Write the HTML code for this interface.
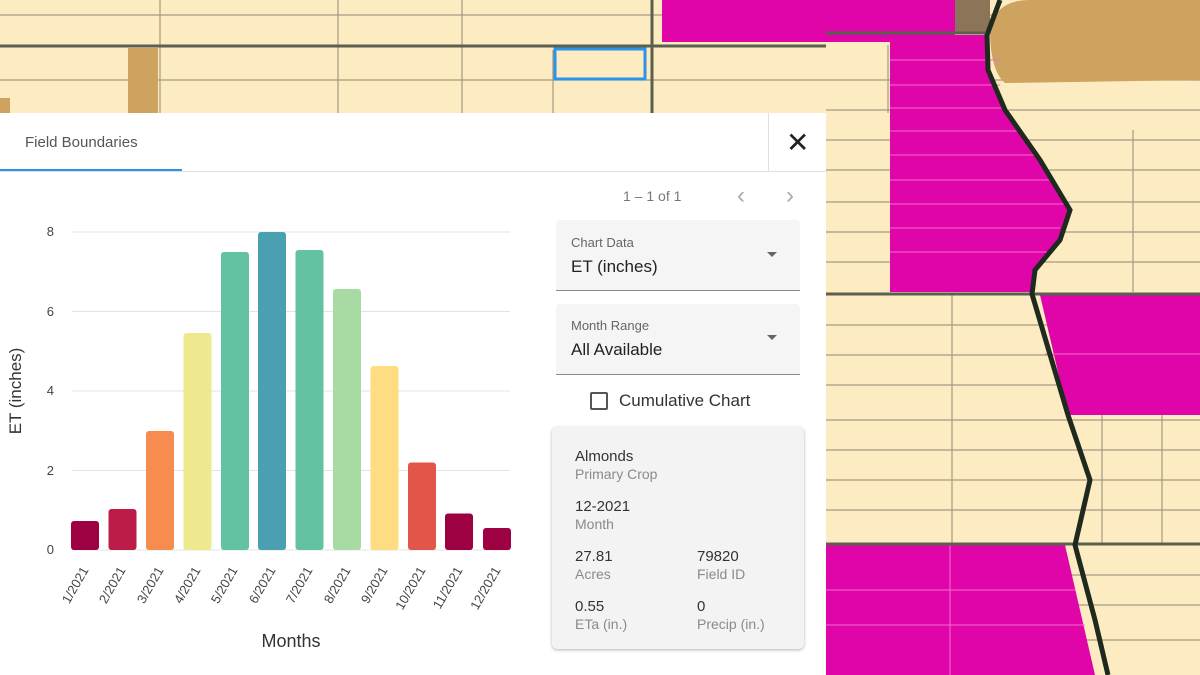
<!DOCTYPE html>
<html><head><meta charset="utf-8"><style>
body{margin:0;width:1200px;height:675px;overflow:hidden;position:relative;font-family:"Liberation Sans",sans-serif;background:#fdebc2}
.abs{position:absolute}
.panel{left:0;top:113px;width:826px;height:562px;background:#fff}
.sel{background:#f5f5f5;border-bottom:1px solid #8a8a8a;border-radius:4px 4px 0 0}
.lbl{font-size:13px;color:#666}
.val{font-size:17px;color:#222}
.card{left:552px;top:427px;width:252px;height:222px;background:#f3f3f3;border-radius:5px;box-shadow:0 1px 3px rgba(0,0,0,.3)}
.b{font-size:15px;color:#333}
.s{font-size:14px;color:#8a8a8a}
</style></head><body>
<svg class="abs" style="left:0;top:0" width="1200" height="675">
<rect width="1200" height="675" fill="#fdebc2"/>
<g stroke="#a59b84" stroke-width="1.2">
<line x1="0" y1="15" x2="1200" y2="15"/><line x1="0" y1="80" x2="1200" y2="80"/><line x1="826" y1="110" x2="1200" y2="110"/>
<line x1="826" y1="140" x2="1200" y2="140"/><line x1="826" y1="170" x2="1200" y2="170"/><line x1="826" y1="202" x2="1200" y2="202"/>
<line x1="826" y1="232" x2="1200" y2="232"/><line x1="826" y1="262" x2="1200" y2="262"/><line x1="826" y1="325" x2="1200" y2="325"/>
<line x1="826" y1="355" x2="1200" y2="355"/><line x1="826" y1="385" x2="1200" y2="385"/><line x1="826" y1="420" x2="1200" y2="420"/>
<line x1="826" y1="450" x2="1200" y2="450"/><line x1="826" y1="480" x2="1200" y2="480"/><line x1="826" y1="510" x2="1200" y2="510"/>
<line x1="826" y1="575" x2="1200" y2="575"/><line x1="826" y1="605" x2="1200" y2="605"/><line x1="826" y1="640" x2="1200" y2="640"/>
<line x1="952" y1="295" x2="952" y2="545"/><line x1="1133" y1="130" x2="1133" y2="292"/><line x1="1102" y1="415" x2="1102" y2="545"/><line x1="1162" y1="415" x2="1162" y2="545"/>
<line x1="160" y1="0" x2="160" y2="113"/><line x1="338" y1="0" x2="338" y2="113"/><line x1="462" y1="0" x2="462" y2="113"/><line x1="553" y1="50" x2="553" y2="113"/><line x1="888" y1="45" x2="888" y2="113"/>
</g>
<rect x="128" y="48" width="30" height="65" fill="#cda35f"/>
<rect x="0" y="98" width="10" height="15" fill="#cda35f"/>
<path d="M990 30 Q995 0 1030 0 L1200 0 L1200 80 L1005 83 Q990 70 990 30Z" fill="#cda35f"/>
<rect x="955" y="0" width="35" height="32" fill="#8c7458"/>
<rect x="662" y="0" width="293" height="42" fill="#e005a8"/>
<path d="M890 35 L985 35 L988 70 L1005 110 L1040 160 L1068 210 L1060 240 L1035 270 L1032 292 L890 292Z" fill="#e005a8"/>
<path d="M1040 295 L1200 295 L1200 415 L1068 415Z" fill="#e005a8"/>
<path d="M826 545 L1065 545 L1095 675 L826 675Z" fill="#e005a8"/>
<g stroke="#f36bcf" stroke-width="1"><line x1="890" y1="60" x2="1000" y2="60"/><line x1="890" y1="85" x2="1000" y2="85"/><line x1="890" y1="108" x2="1005" y2="108"/><line x1="890" y1="131" x2="1020" y2="131"/><line x1="890" y1="155" x2="1035" y2="155"/><line x1="890" y1="180" x2="1055" y2="180"/><line x1="890" y1="204" x2="1065" y2="204"/><line x1="890" y1="228" x2="1060" y2="228"/><line x1="890" y1="252" x2="1050" y2="252"/><line x1="1045" y1="354" x2="1200" y2="354"/><line x1="826" y1="590" x2="1075" y2="590"/><line x1="826" y1="625" x2="1085" y2="625"/><line x1="950" y1="545" x2="950" y2="675"/></g>
<g stroke="#59604f" stroke-width="3" fill="none">
<line x1="0" y1="46" x2="826" y2="46"/><line x1="652" y1="0" x2="652" y2="113"/><line x1="826" y1="294" x2="1200" y2="294"/><line x1="826" y1="544" x2="1200" y2="544"/>
<line x1="826" y1="33" x2="985" y2="33"/>
</g>
<path d="M1000 0 L987 35 L988 70 L1005 110 L1040 160 L1070 210 L1060 240 L1035 270 L1032 294 L1068 415 L1090 480 L1075 545 L1095 620 L1108 675" stroke="#1f2a1f" stroke-width="5" fill="none"/>
<rect x="555" y="49" width="90" height="30" fill="none" stroke="#2c93e8" stroke-width="3"/>
</svg>
<div class="abs panel"></div>
<div class="abs" style="left:0;top:171px;width:826px;height:1px;background:#e0e0e0"></div>
<div class="abs" style="left:25px;top:134px;font-size:15px;color:#555">Field Boundaries</div>
<div class="abs" style="left:0;top:169px;width:182px;height:2px;background:#2c93e8"></div>
<div class="abs" style="left:768px;top:113px;width:1px;height:58px;background:#e0e0e0"></div>
<div class="abs" style="left:786px;top:127px;font-size:28px;color:#222;line-height:32px">✕</div>
<svg class="abs" style="left:0;top:180px" width="540" height="480">
<g stroke="#e3e3e3"><line x1="72" y1="52" x2="510" y2="52"/><line x1="72" y1="131.5" x2="510" y2="131.5"/><line x1="72" y1="211" x2="510" y2="211"/><line x1="72" y1="290.5" x2="510" y2="290.5"/><line x1="72" y1="370" x2="510" y2="370"/></g>
<g font-size="13" fill="#444" text-anchor="end"><text x="54" y="56">8</text><text x="54" y="136">6</text><text x="54" y="215">4</text><text x="54" y="295">2</text><text x="54" y="374">0</text></g>
<g>
<rect x="71" y="341" width="28" height="29" rx="3" fill="#9e0142"/>
<rect x="108.5" y="329" width="28" height="41" rx="3" fill="#bb1d48"/>
<rect x="146" y="251" width="28" height="119" rx="3" fill="#f68c4f"/>
<rect x="183.5" y="153" width="28" height="217" rx="3" fill="#eee88f"/>
<rect x="221" y="72" width="28" height="298" rx="3" fill="#63c2a2"/>
<rect x="258" y="52" width="28" height="318" rx="3" fill="#4aa0b0"/>
<rect x="295.5" y="70" width="28" height="300" rx="3" fill="#63c2a2"/>
<rect x="333" y="109" width="28" height="261" rx="3" fill="#a8dba3"/>
<rect x="370.5" y="186" width="28" height="184" rx="3" fill="#fddc82"/>
<rect x="408" y="282.5" width="28" height="87.5" rx="3" fill="#e25649"/>
<rect x="445" y="333.5" width="28" height="36.5" rx="3" fill="#9e0142"/>
<rect x="483" y="348" width="28" height="22" rx="3" fill="#9e0142"/>
</g>
<g font-size="13" fill="#444" text-anchor="end">
<text transform="translate(89,390) rotate(-60)">1/2021</text>
<text transform="translate(126,390) rotate(-60)">2/2021</text>
<text transform="translate(164,390) rotate(-60)">3/2021</text>
<text transform="translate(201,390) rotate(-60)">4/2021</text>
<text transform="translate(238,390) rotate(-60)">5/2021</text>
<text transform="translate(276,390) rotate(-60)">6/2021</text>
<text transform="translate(313,390) rotate(-60)">7/2021</text>
<text transform="translate(351,390) rotate(-60)">8/2021</text>
<text transform="translate(388,390) rotate(-60)">9/2021</text>
<text transform="translate(426,390) rotate(-60)">10/2021</text>
<text transform="translate(463,390) rotate(-60)">11/2021</text>
<text transform="translate(501,390) rotate(-60)">12/2021</text>
</g>
<text x="291" y="467" font-size="18" fill="#333" text-anchor="middle">Months</text>
<text transform="translate(21,211) rotate(-90)" font-size="17" fill="#333" text-anchor="middle">ET (inches)</text>
</svg>
<div class="abs" style="left:623px;top:188px;font-size:14px;color:#777">1 – 1 of 1</div>
<div class="abs" style="left:737px;top:182px;font-size:24px;color:#aaa">‹</div>
<div class="abs" style="left:786px;top:182px;font-size:24px;color:#aaa">›</div>
<div class="abs sel" style="left:556px;top:220px;width:244px;height:70px"></div>
<div class="abs lbl" style="left:571px;top:235px">Chart Data</div>
<div class="abs val" style="left:571px;top:257px">ET (inches)</div>
<div class="abs" style="left:767px;top:252px;border:5px solid transparent;border-top-color:#666"></div>
<div class="abs sel" style="left:556px;top:304px;width:244px;height:70px"></div>
<div class="abs lbl" style="left:571px;top:318px">Month Range</div>
<div class="abs val" style="left:571px;top:340px">All Available</div>
<div class="abs" style="left:767px;top:335px;border:5px solid transparent;border-top-color:#666"></div>
<div class="abs" style="left:590px;top:392px;width:14px;height:14px;border:2px solid #555;border-radius:2px"></div>
<div class="abs val" style="left:619px;top:391px;color:#333">Cumulative Chart</div>
<div class="abs card"></div>
<div class="abs b" style="left:575px;top:448px">Almonds</div>
<div class="abs s" style="left:575px;top:466px">Primary Crop</div>
<div class="abs b" style="left:575px;top:498px">12-2021</div>
<div class="abs s" style="left:575px;top:516px">Month</div>
<div class="abs b" style="left:575px;top:548px">27.81</div>
<div class="abs s" style="left:575px;top:566px">Acres</div>
<div class="abs b" style="left:697px;top:548px">79820</div>
<div class="abs s" style="left:697px;top:566px">Field ID</div>
<div class="abs b" style="left:575px;top:598px">0.55</div>
<div class="abs s" style="left:575px;top:616px">ETa (in.)</div>
<div class="abs b" style="left:697px;top:598px">0</div>
<div class="abs s" style="left:697px;top:616px">Precip (in.)</div>
</body></html>
